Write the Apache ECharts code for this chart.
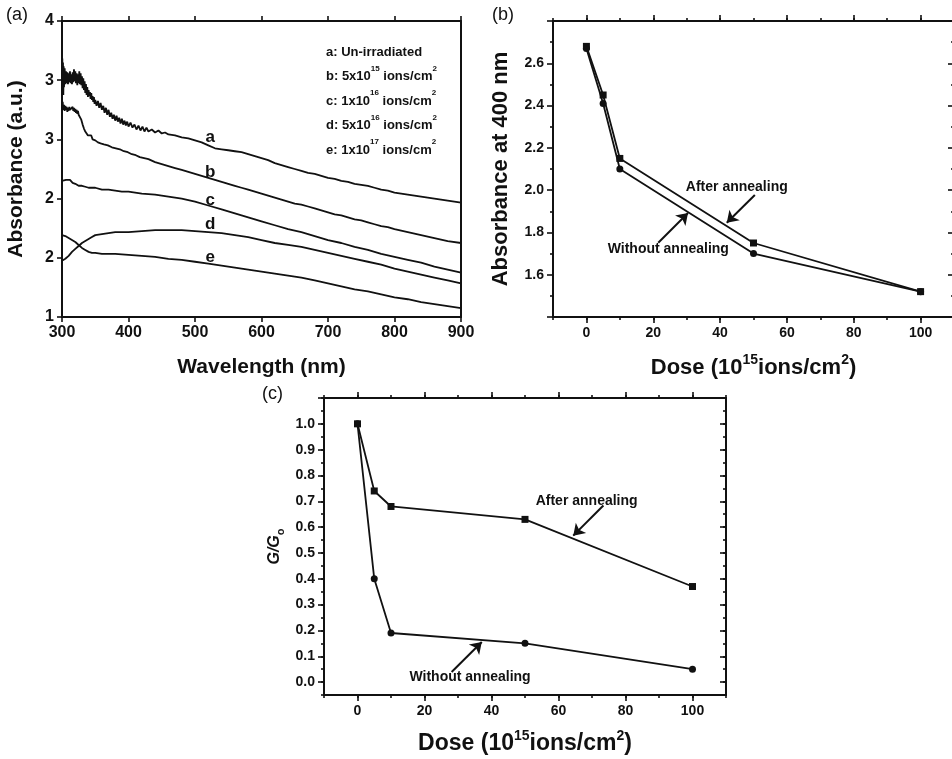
<!DOCTYPE html>
<html><head><meta charset="utf-8">
<script src="https://cdn.jsdelivr.net/npm/echarts@6/dist/echarts.min.js"></script>
<style>html,body{margin:0;padding:0;background:#fff}#c{width:952px;height:759px}</style>
</head><body><div id="c"></div>
<script>
const FONT = '"Liberation Sans", Arial, Helvetica, sans-serif';
const INK = '#111';

// ---------- Panel (a): absorption spectra ----------
const absYTickValues = [1, 1.6, 2.2, 2.8, 3.4, 4];
const absYTickLabels = ['1', '2', '2', '3', '3', '4'];
const curveA = [[300,3.40],[300.5,3.62],[301,3.28],[301.5,3.58],[302,3.25],[302.5,3.54],[303,3.33],[304,3.52],[305,3.36],[306,3.49],[307,3.37],[308,3.48],[309,3.36],[310,3.47],[311,3.38],[312,3.49],[313,3.37],[314,3.46],[315,3.36],[316,3.48],[317,3.38],[318,3.51],[319,3.39],[320,3.49],[321,3.37],[322,3.47],[323,3.35],[324,3.46],[325,3.37],[326,3.49],[327,3.36],[328,3.47],[329,3.35],[330,3.44],[331,3.32],[332,3.42],[333,3.30],[334,3.39],[335,3.27],[336,3.36],[337,3.25],[338,3.33],[339,3.23],[340,3.30],[341,3.24],[342,3.28],[343,3.21],[344,3.27],[345,3.20],[346,3.24],[347,3.18],[348,3.23],[349,3.16],[350,3.20],[352,3.14],[354,3.19],[356,3.12],[358,3.17],[360,3.10],[362,3.14],[364,3.07],[366,3.12],[368,3.05],[370,3.10],[372,3.03],[374,3.07],[376,3.01],[378,3.05],[380,2.99],[382,3.04],[384,2.98],[386,3.02],[388,2.96],[390,3.01],[392,2.95],[394,2.99],[396,2.94],[398,2.98],[400,2.93],[403,2.97],[406,2.92],[409,2.95],[412,2.90],[415,2.94],[418,2.89],[421,2.93],[424,2.88],[427,2.92],[430,2.88],[435,2.90],[440,2.87],[445,2.89],[450,2.86],[455,2.87],[460,2.85],[470,2.84],[480,2.82],[490,2.81],[500,2.79],[510,2.77],[520,2.74],[530,2.71],[540,2.70],[550,2.69],[560,2.68],[570,2.67],[580,2.65],[590,2.63],[600,2.61],[610,2.59],[620,2.56],[630,2.54],[640,2.52],[650,2.50],[660,2.48],[670,2.46],[680,2.45],[690,2.43],[700,2.41],[710,2.40],[720,2.38],[730,2.37],[740,2.35],[750,2.34],[760,2.33],[770,2.31],[780,2.29],[790,2.28],[800,2.26],[810,2.25],[820,2.24],[830,2.23],[840,2.22],[850,2.21],[860,2.20],[870,2.19],[880,2.18],[890,2.17],[900,2.16]];
const curveB = [[300,3.12],[301,3.18],[302,3.10],[303,3.15],[304,3.09],[305,3.14],[306,3.10],[307,3.13],[308,3.08],[309,3.12],[310,3.09],[311,3.13],[312,3.10],[313,3.12],[314,3.08],[315,3.11],[316,3.13],[317,3.09],[318,3.12],[319,3.08],[320,3.11],[321,3.07],[322,3.10],[323,3.06],[324,3.09],[325,3.05],[326,3.07],[327,3.03],[328,3.05],[329,3.00],[330,2.98],[331,2.95],[332,2.93],[333,2.91],[334,2.90],[335,2.88],[336,2.89],[337,2.86],[338,2.87],[339,2.84],[340,2.86],[342,2.82],[344,2.84],[346,2.80],[348,2.82],[350,2.79],[352,2.80],[354,2.77],[356,2.79],[358,2.76],[360,2.78],[363,2.75],[366,2.77],[369,2.74],[372,2.75],[375,2.72],[378,2.74],[381,2.71],[384,2.72],[387,2.70],[390,2.71],[393,2.68],[396,2.69],[399,2.67],[402,2.68],[405,2.65],[408,2.66],[411,2.64],[414,2.65],[417,2.62],[420,2.63],[430,2.60],[440,2.57],[450,2.55],[460,2.53],[470,2.51],[480,2.49],[490,2.47],[500,2.45],[510,2.43],[520,2.41],[530,2.39],[540,2.37],[550,2.35],[560,2.33],[570,2.31],[580,2.29],[590,2.27],[600,2.25],[610,2.23],[620,2.21],[630,2.19],[640,2.17],[650,2.15],[660,2.14],[670,2.12],[680,2.10],[690,2.08],[700,2.06],[710,2.04],[720,2.03],[730,2.01],[740,1.99],[750,1.98],[760,1.96],[770,1.94],[780,1.92],[790,1.91],[800,1.89],[820,1.86],[840,1.83],[860,1.80],[880,1.77],[900,1.75]];
const curveC = [[300,2.38],[303,2.40],[306,2.39],[309,2.40],[312,2.39],[316,2.36],[320,2.35],[325,2.33],[330,2.33],[335,2.32],[340,2.31],[350,2.31],[360,2.29],[370,2.29],[380,2.28],[390,2.27],[400,2.27],[420,2.25],[440,2.24],[460,2.22],[480,2.20],[500,2.17],[520,2.13],[540,2.09],[560,2.05],[580,2.01],[600,1.97],[620,1.93],[640,1.89],[660,1.86],[680,1.82],[700,1.78],[720,1.75],[740,1.71],[760,1.68],[780,1.64],[800,1.61],[820,1.58],[840,1.55],[860,1.51],[880,1.48],[900,1.45]];
const curveD = [[300,1.57],[305,1.59],[310,1.62],[315,1.66],[320,1.69],[325,1.72],[330,1.75],[335,1.77],[340,1.79],[345,1.81],[350,1.83],[360,1.84],[370,1.85],[380,1.86],[400,1.86],[420,1.87],[440,1.88],[460,1.88],[480,1.88],[500,1.87],[520,1.86],[540,1.85],[560,1.83],[580,1.81],[600,1.78],[620,1.75],[640,1.73],[660,1.71],[680,1.68],[700,1.65],[720,1.62],[740,1.59],[760,1.56],[780,1.53],[800,1.49],[820,1.46],[840,1.43],[860,1.40],[880,1.37],[900,1.34]];
const curveE = [[300,1.83],[305,1.82],[310,1.80],[315,1.78],[320,1.76],[325,1.73],[330,1.70],[335,1.68],[340,1.66],[345,1.65],[350,1.65],[360,1.64],[380,1.64],[400,1.63],[420,1.62],[440,1.61],[460,1.59],[480,1.58],[500,1.56],[520,1.54],[540,1.52],[560,1.50],[580,1.48],[600,1.46],[620,1.44],[640,1.42],[660,1.40],[680,1.37],[700,1.34],[720,1.31],[740,1.28],[760,1.26],[780,1.23],[800,1.20],[820,1.18],[840,1.15],[860,1.13],[880,1.11],[900,1.09]];
const curveNames = ['a', 'b', 'c', 'd', 'e'];
const curveLabelAt = [[523, 2.82], [523, 2.47], [523, 2.18], [523, 1.94], [523, 1.61]];
const legendLines = ['a: Un-irradiated', 'b: 5x10{s|15} ions/cm{s|2}', 'c: 1x10{s|16} ions/cm{s|2}', 'd: 5x10{s|16} ions/cm{s|2}', 'e: 1x10{s|17} ions/cm{s|2}'];

// ---------- Panels (b) and (c): dose dependence ----------
const dose = [0, 5, 10, 50, 100];
const abs400After = [2.68, 2.45, 2.15, 1.75, 1.52];
const abs400Without = [2.67, 2.41, 2.10, 1.70, 1.52];
const gRatioAfter = [1.00, 0.74, 0.68, 0.63, 0.37];
const gRatioWithout = [1.00, 0.40, 0.19, 0.15, 0.05];
const doseMajorTicks = [0, 20, 40, 60, 80, 100];
const gMajorTicks = [0, 0.1, 0.2, 0.3, 0.4, 0.5, 0.6, 0.7, 0.8, 0.9, 1.0, 1.1];

const chart = echarts.init(document.getElementById('c'), null, { renderer: 'canvas' });

const lineW = 2;
function axis(o) {
  return Object.assign({
    type: 'value', splitLine: { show: false },
    axisLine: { show: true, onZero: false, lineStyle: { color: INK, width: lineW } },
    axisLabel: { show: false },
    axisTick: { show: false },
    minorTick: { show: false }
  }, o);
}
function ticks(len, inside, custom) {
  const t = { show: true, length: len, inside: !!inside, lineStyle: { color: INK, width: 1.6 } };
  if (custom) t.customValues = custom;
  return t;
}
const noLine = { show: false, onZero: false };
const nameStyle = (size) => ({
  fontFamily: FONT, fontWeight: 'bold', fontSize: size, color: INK, lineHeight: 30,
  rich: { s: { fontFamily: FONT, fontWeight: 'bold', fontSize: 14, color: INK, lineHeight: 14, verticalAlign: 'top' } }
});
const tickLabel = (size, extra) => Object.assign({ show: true, fontFamily: FONT, fontWeight: 'bold', fontSize: size, color: INK }, extra || {});
const doseLabelFmt = (v) => {
  const r = Math.round(v);
  return (r % 20 === 0 && r >= 0 && r <= 100) ? String(r) : '';
};

const xAxis = [
  // (a) 0,1
  axis({ gridIndex: 0, position: 'bottom', min: 300, max: 900, interval: 100,
    axisTick: ticks(5), axisLabel: tickLabel(16, { margin: 8 }),
    name: 'Wavelength (nm)', nameLocation: 'middle', nameGap: 35, nameTextStyle: nameStyle(21) }),
  axis({ gridIndex: 0, position: 'top', min: 300, max: 900, interval: 100, axisTick: ticks(5) }),
  // (b) 2..5
  axis({ gridIndex: 1, position: 'bottom', min: -10, max: 110, interval: 10,
    axisTick: ticks(3), axisLabel: tickLabel(14, { margin: 9, formatter: doseLabelFmt }),
    name: 'Dose (10{s|15}ions/cm{s|2})', nameLocation: 'middle', nameGap: 36, nameTextStyle: nameStyle(22) }),
  axis({ gridIndex: 1, position: 'bottom', min: -10, max: 110, axisLine: noLine, axisTick: ticks(6, false, doseMajorTicks) }),
  axis({ gridIndex: 1, position: 'top', min: -10, max: 110, interval: 10, axisTick: ticks(3) }),
  axis({ gridIndex: 1, position: 'top', min: -10, max: 110, axisLine: noLine, axisTick: ticks(6, false, doseMajorTicks) }),
  // (c) 6..9
  axis({ gridIndex: 2, position: 'bottom', min: -10, max: 110, interval: 10,
    axisTick: ticks(3), axisLabel: tickLabel(14, { margin: 9, formatter: doseLabelFmt }),
    name: 'Dose (10{s|15}ions/cm{s|2})', nameLocation: 'middle', nameGap: 34, nameTextStyle: nameStyle(23) }),
  axis({ gridIndex: 2, position: 'bottom', min: -10, max: 110, axisLine: noLine, axisTick: ticks(6, false, doseMajorTicks) }),
  axis({ gridIndex: 2, position: 'top', min: -10, max: 110, interval: 10, axisTick: ticks(3) }),
  axis({ gridIndex: 2, position: 'top', min: -10, max: 110, axisLine: noLine, axisTick: ticks(6, false, doseMajorTicks) })
];

const absIdx = (v) => absYTickValues.findIndex(t => Math.abs(t - v) < 1e-6);
const gLabelFmt = (v) => {
  const r = Math.round(v * 100);
  return (r % 10 === 0 && r >= 0 && r <= 100) ? (r / 100).toFixed(1) : '';
};

const yAxis = [
  // (a) 0,1
  axis({ gridIndex: 0, position: 'left', min: 1, max: 4,
    axisTick: ticks(5, false, absYTickValues),
    axisLabel: tickLabel(16, { margin: 8, customValues: absYTickValues, formatter: (v) => absYTickLabels[absIdx(v)] || '' }),
    name: 'Absorbance (a.u.)', nameLocation: 'middle', nameGap: 31, nameTextStyle: nameStyle(21) }),
  axis({ gridIndex: 0, position: 'right', min: 1, max: 4 }),
  // (b) 2,3
  axis({ gridIndex: 1, position: 'left', min: 1.4, max: 2.8, interval: 0.2,
    axisTick: ticks(6), minorTick: { show: true, splitNumber: 2, length: 3, lineStyle: { color: INK, width: 1.6 } },
    axisLabel: tickLabel(14, { margin: 9, showMinLabel: false, showMaxLabel: false, formatter: (v) => v.toFixed(1) }),
    name: 'Absorbance at 400 nm', nameLocation: 'middle', nameGap: 37, nameTextStyle: nameStyle(22) }),
  axis({ gridIndex: 1, position: 'right', min: 1.4, max: 2.8, interval: 0.2,
    axisTick: ticks(6, true), minorTick: { show: true, splitNumber: 2, length: 3, lineStyle: { color: INK, width: 1.6 } } }),
  // (c) 4..7
  axis({ gridIndex: 2, position: 'left', min: -0.05, max: 1.1, interval: 0.05,
    axisTick: ticks(3), axisLabel: tickLabel(14, { margin: 9, formatter: gLabelFmt }),
    name: 'G/G{o|o}', nameLocation: 'middle', nameGap: 38,
    nameTextStyle: { fontFamily: FONT, fontWeight: 'bold', fontStyle: 'italic', fontSize: 16, color: INK, lineHeight: 22,
      rich: { o: { fontFamily: FONT, fontWeight: 'bold', fontStyle: 'normal', fontSize: 11, color: INK, lineHeight: 12, verticalAlign: 'bottom' } } } }),
  axis({ gridIndex: 2, position: 'left', min: -0.05, max: 1.1, axisLine: noLine, axisTick: ticks(6, false, gMajorTicks) }),
  axis({ gridIndex: 2, position: 'right', min: -0.05, max: 1.1, interval: 0.05, axisTick: ticks(3, true) }),
  axis({ gridIndex: 2, position: 'right', min: -0.05, max: 1.1, axisLine: noLine, axisTick: ticks(6, true, gMajorTicks) })
];

const spectra = [curveA, curveB, curveC, curveD, curveE];
const series = spectra.map((d, i) => ({
  type: 'line', xAxisIndex: 0, yAxisIndex: 0, data: d, showSymbol: false, symbol: 'none',
  lineStyle: { color: INK, width: 1.8 }, silent: true,
  markPoint: {
    symbol: 'circle', symbolSize: 1, itemStyle: { color: 'rgba(0,0,0,0)' }, silent: true,
    label: { show: true, position: 'inside', formatter: curveNames[i], fontFamily: FONT, fontWeight: 'bold', fontSize: 17, color: INK },
    data: [{ coord: curveLabelAt[i] }]
  }
}));

const annLabel = { show: true, position: 'inside', fontFamily: FONT, fontWeight: 'bold', fontSize: 14, color: INK };
function pairs(xs, ys) { return xs.map((x, i) => [x, ys[i]]); }
function doseSeries(xi, yi, ys, sym, text, textAt, arrowFrom, arrowTo) {
  return {
    type: 'line', xAxisIndex: xi, yAxisIndex: yi, data: pairs(dose, ys),
    symbol: sym, symbolSize: 7, showSymbol: true,
    lineStyle: { color: INK, width: 1.8 }, itemStyle: { color: INK }, silent: true,
    markPoint: {
      symbol: 'circle', symbolSize: 1, itemStyle: { color: 'rgba(0,0,0,0)' }, silent: true,
      label: Object.assign({ formatter: text }, annLabel),
      data: [{ coord: textAt }]
    },
    markLine: {
      silent: true, symbol: ['none', 'arrow'], symbolSize: 11,
      lineStyle: { color: INK, width: 2, type: 'solid' }, itemStyle: { color: INK }, label: { show: false },
      data: [[{ coord: arrowFrom }, { coord: arrowTo }]]
    }
  };
}
series.push(
  doseSeries(2, 2, abs400After, 'rect', 'After annealing', [45.0, 2.016], [50.4, 1.977], [42.0, 1.846]),
  doseSeries(2, 2, abs400Without, 'circle', 'Without annealing', [24.5, 1.722], [21.5, 1.751], [30.4, 1.892]),
  doseSeries(6, 4, gRatioAfter, 'rect', 'After annealing', [68.4, 0.699], [73.4, 0.684], [64.4, 0.567]),
  doseSeries(6, 4, gRatioWithout, 'circle', 'Without annealing', [33.6, 0.019], [28.1, 0.039], [37.1, 0.155])
);

const option = {
  animation: false,
  backgroundColor: '#fff',
  grid: [
    { left: 62, top: 21, width: 399, height: 296, outerBoundsMode: 'none' },
    { left: 553, top: 21, width: 401, height: 296, outerBoundsMode: 'none' },
    { left: 324, top: 398, width: 402, height: 297, outerBoundsMode: 'none' }
  ],
  xAxis, yAxis, series,
  graphic: [
    { type: 'text', left: 6, top: 6, style: { text: '(a)', fontFamily: FONT, fontSize: 18, fill: INK } },
    { type: 'text', left: 492, top: 6, style: { text: '(b)', fontFamily: FONT, fontSize: 18, fill: INK } },
    { type: 'text', left: 262, top: 385, style: { text: '(c)', fontFamily: FONT, fontSize: 18, fill: INK } },
    { type: 'text', left: 326, top: 40, style: {
      text: legendLines.join('\n'), fontFamily: FONT, fontWeight: 'bold', fontSize: 13, fill: INK, lineHeight: 24.5,
      rich: { s: { fontFamily: FONT, fontWeight: 'bold', fontSize: 8, fill: INK, lineHeight: 17, verticalAlign: 'top' } }
    } }
  ]
};
chart.setOption(option);
</script></body></html>
